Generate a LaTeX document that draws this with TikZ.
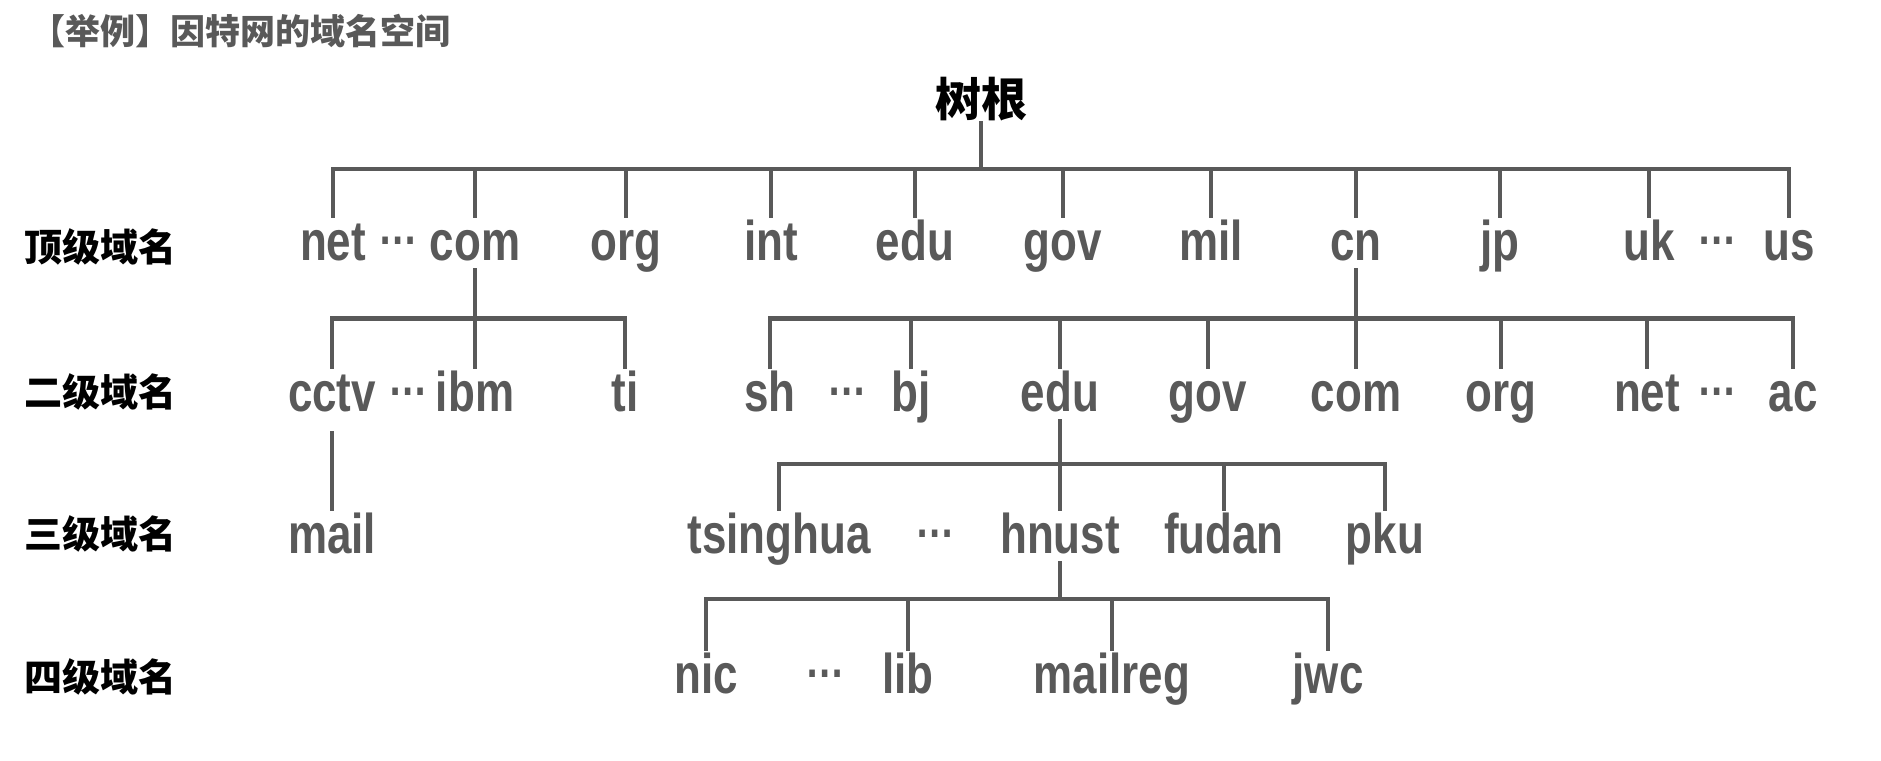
\documentclass[tikz,border=0pt]{standalone}
\usepackage{fontspec}
\setmainfont{Liberation Sans}
\newfontfamily\narrowfont{Liberation Sans}[FakeStretch=0.785]
\newfontfamily\cjk{Noto Sans CJK SC}
\definecolor{treegray}{HTML}{595959}
\begin{document}
\begin{tikzpicture}[x=1pt,y=-1pt,
	dom/.style={anchor=base,inner sep=0pt,text height=42pt,text depth=8pt,text=treegray,font=\narrowfont\bfseries\fontsize{56}{60}\selectfont},
	dots/.style={anchor=base,inner sep=0pt,text=treegray,font=\narrowfont\bfseries\fontsize{50}{54}\selectfont},
	level/.style={inner sep=0pt,font=\cjk\bfseries\fontsize{38}{40}\selectfont},
	branch/.style={draw=treegray,line width=4.5pt}]
	\useasboundingbox (0,0) rectangle (1881,760);
	\node[anchor=west,inner sep=0pt,text=treegray,font=\cjk\bfseries\fontsize{35}{38}\selectfont] (title) at (30,31) {【举例】因特网的域名空间};
	\node[inner sep=0pt,font=\cjk\bfseries\fontsize{46}{50}\selectfont] (root) at (981,99) {树根};
	% les niveaux
	\node[level] (lvla) at (100,247) {顶级域名};
	\node[level] (lvlb) at (100,392) {二级域名};
	\node[level] (lvlc) at (100,534) {三级域名};
	\node[level] (lvld) at (100,677) {四级域名};
	% hauteurs des barres
	\coordinate (bara) at (0,169);
	\coordinate (barb) at (0,318.5);
	\coordinate (barc) at (0,464);
	\coordinate (bard) at (0,599);
	% domaines de premier niveau
	\node[dom] (net) at (333,260) {net};
	\node[dots] (dotsa) at (398,244) {…};
	\node[dom] (com) at (475,260) {com};
	\node[dom] (org) at (626,260) {org};
	\node[dom] (int) at (771,260) {int};
	\node[dom] (edu) at (915,260) {edu};
	\node[dom] (gov) at (1063,260) {gov};
	\node[dom] (mil) at (1211,260) {mil};
	\node[dom] (cn) at (1356,260) {cn};
	\node[dom] (jp) at (1500,260) {jp};
	\node[dom] (uk) at (1649,260) {uk};
	\node[dots] (dotsb) at (1717,244) {…};
	\node[dom] (us) at (1789,260) {us};
	% domaines de second niveau
	\node[dom] (cctv) at (332,411) {cctv};
	\node[dots] (dotsc) at (408,395) {…};
	\node[dom] (ibm) at (475,411) {ibm};
	\node[dom] (ti) at (625,411) {ti};
	\node[dom] (sh) at (770,411) {sh};
	\node[dots] (dotsd) at (847,395) {…};
	\node[dom] (bj) at (911,411) {bj};
	\node[dom] (cnedu) at (1060,411) {edu};
	\node[dom] (cngov) at (1208,411) {gov};
	\node[dom] (cncom) at (1356,411) {com};
	\node[dom] (cnorg) at (1501,411) {org};
	\node[dom] (cnnet) at (1647,411) {net};
	\node[dots] (dotse) at (1717,395) {…};
	\node[dom] (ac) at (1793,411) {ac};
	% troisieme niveau
	\node[dom] (mail) at (332,553) {mail};
	\node[dom] (tsinghua) at (779,553) {tsinghua};
	\node[dots] (dotsf) at (935,537) {…};
	\node[dom] (hnust) at (1060,553) {hnust};
	\node[dom] (fudan) at (1224,553) {fudan};
	\node[dom] (pku) at (1385,553) {pku};
	% quatrieme niveau
	\node[dom] (nic) at (706,693) {nic};
	\node[dots] (dotsg) at (825,677) {…};
	\node[dom] (lib) at (908,693) {lib};
	\node[dom] (mailreg) at (1112,693) {mailreg};
	\node[dom] (jwc) at (1328,693) {jwc};
	% branches
	\draw[branch] (root.south) -- (root |- bara);
	\draw[branch] (net.north) -- (net |- bara) -- (us |- bara) -- (us.north);
	\draw[branch] (com |- bara) -- (com.north);
	\draw[branch] (org |- bara) -- (org.north);
	\draw[branch] (int |- bara) -- (int.north);
	\draw[branch] (edu |- bara) -- (edu.north);
	\draw[branch] (gov |- bara) -- (gov.north);
	\draw[branch] (mil |- bara) -- (mil.north);
	\draw[branch] (cn |- bara) -- (cn.north);
	\draw[branch] (jp |- bara) -- (jp.north);
	\draw[branch] (uk |- bara) -- (uk.north);
	\draw[branch] (com.south) -- (com |- barb);
	\draw[branch] (cctv.north) -- (cctv |- barb) -- (ti |- barb) -- (ti.north);
	\draw[branch] (ibm |- barb) -- (ibm.north);
	\draw[branch] (cn.south) -- (cn |- barb);
	\draw[branch] (sh.north) -- (sh |- barb) -- (ac |- barb) -- (ac.north);
	\draw[branch] (bj |- barb) -- (bj.north);
	\draw[branch] (cnedu |- barb) -- (cnedu.north);
	\draw[branch] (cngov |- barb) -- (cngov.north);
	\draw[branch] (cncom |- barb) -- (cncom.north);
	\draw[branch] (cnorg |- barb) -- (cnorg.north);
	\draw[branch] (cnnet |- barb) -- (cnnet.north);
	\draw[branch,shorten <=12pt] (cctv.south) -- (mail.north);
	\draw[branch] (cnedu.south) -- (cnedu |- barc);
	\draw[branch] (tsinghua.north) -- (tsinghua |- barc) -- (pku |- barc) -- (pku.north);
	\draw[branch] (hnust |- barc) -- (hnust.north);
	\draw[branch] (fudan |- barc) -- (fudan.north);
	\draw[branch] (hnust.south) -- (hnust |- bard);
	\draw[branch] (nic.north) -- (nic |- bard) -- (jwc |- bard) -- (jwc.north);
	\draw[branch] (lib |- bard) -- (lib.north);
	\draw[branch] (mailreg |- bard) -- (mailreg.north);
\end{tikzpicture}
\end{document}
